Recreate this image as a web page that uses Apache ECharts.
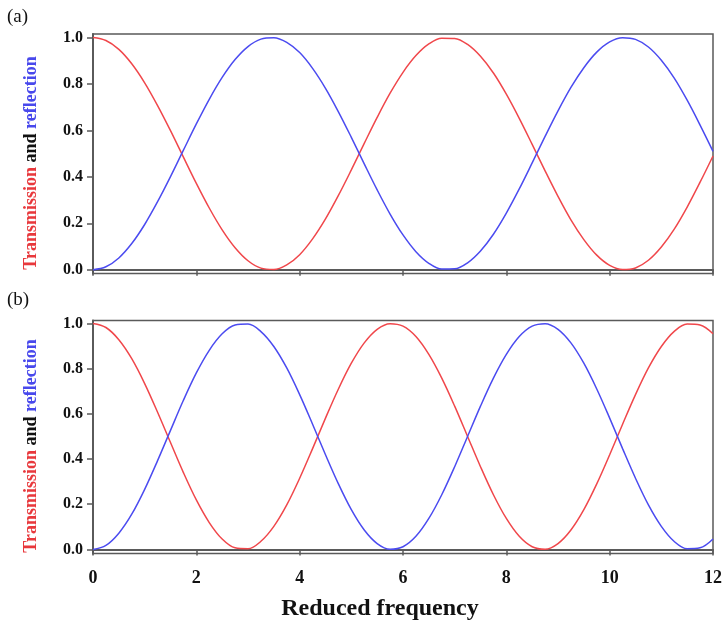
<!DOCTYPE html>
<html>
<head>
<meta charset="utf-8">
<script src="https://cdn.jsdelivr.net/npm/echarts@6/dist/echarts.min.js"></script>
<style>html,body{margin:0;padding:0;background:#fff}#c{width:722px;height:622px}</style>
</head>
<body>
<div id="c"></div>
<script>
// x positions (reduced frequency), step 0.25 from 0 to 12
const freq = [0,0.25,0.5,0.75,1,1.25,1.5,1.75,2,2.25,2.5,2.75,3,3.25,3.5,3.75,4,4.25,4.5,4.75,5,5.25,5.5,5.75,6,6.25,6.5,6.75,7,7.25,7.5,7.75,8,8.25,8.5,8.75,9,9.25,9.5,9.75,10,10.25,10.5,10.75,11,11.25,11.5,11.75,12];
// panel (a)
const transA = [1.000,0.987,0.949,0.887,0.805,0.707,0.599,0.485,0.372,0.266,0.172,0.095,0.039,0.007,0.001,0.021,0.065,0.133,0.219,0.320,0.430,0.544,0.656,0.760,0.850,0.922,0.972,0.997,0.996,0.970,0.919,0.847,0.756,0.652,0.540,0.426,0.316,0.215,0.130,0.063,0.019,0.001,0.008,0.041,0.098,0.175,0.270,0.377,0.490];
const reflA  = [0.000,0.013,0.051,0.113,0.195,0.293,0.401,0.515,0.628,0.734,0.828,0.905,0.961,0.993,0.999,0.979,0.935,0.867,0.781,0.680,0.570,0.456,0.344,0.240,0.150,0.078,0.028,0.003,0.004,0.030,0.081,0.153,0.244,0.348,0.460,0.574,0.684,0.785,0.870,0.937,0.981,0.999,0.992,0.959,0.902,0.825,0.730,0.623,0.510];
// panel (b)
const transB = [1.000,0.982,0.928,0.844,0.734,0.607,0.473,0.340,0.219,0.119,0.046,0.007,0.003,0.036,0.102,0.197,0.315,0.446,0.581,0.710,0.824,0.914,0.974,0.999,0.988,0.942,0.863,0.758,0.634,0.500,0.366,0.242,0.137,0.058,0.012,0.001,0.026,0.086,0.176,0.290,0.419,0.554,0.685,0.803,0.898,0.965,0.997,0.993,0.954];
const reflB  = [0.000,0.018,0.072,0.156,0.266,0.393,0.527,0.660,0.781,0.881,0.954,0.993,0.997,0.964,0.898,0.803,0.685,0.554,0.419,0.290,0.176,0.086,0.026,0.001,0.012,0.058,0.137,0.242,0.366,0.500,0.634,0.758,0.863,0.942,0.988,0.999,0.974,0.914,0.824,0.710,0.581,0.446,0.315,0.197,0.102,0.035,0.003,0.007,0.046];
const xTicks = [0,2,4,6,8,10,12];
const yTicks = [0,0.2,0.4,0.6,0.8,1.0];

const RED = '#f0474b', BLUE = '#4b4bf0', AXIS = '#5a5a5a';
const FONT = '"Liberation Serif", "Times New Roman", serif';

function pairs(xs, ys){ return xs.map((x,i)=>[x, ys[i]]); }

function yAxisCfg(gi, mn, mx){
  return {
    gridIndex: gi, type: 'value', min: mn, max: mx,
    axisLine: {show: true, lineStyle: {color: AXIS, width: 2}},
    axisTick: {show: true, length: 6, customValues: yTicks, lineStyle: {color: AXIS, width: 1.5}},
    axisLabel: {customValues: yTicks, formatter: v => v.toFixed(1), fontFamily: FONT, fontWeight: 'bold', fontSize: 16, color: '#111', margin: 10},
    splitLine: {show: false}
  };
}
function xAxisCfg(gi, showLabels){
  return {
    gridIndex: gi, type: 'value', min: 0, max: 12, interval: 2,
    axisLine: {show: true, lineStyle: {color: AXIS, width: 2}},
    axisTick: {show: true, length: 6, lineStyle: {color: AXIS, width: 1.5}},
    axisLabel: {show: showLabels, fontFamily: FONT, fontWeight: 'bold', fontSize: 18, color: '#111', margin: 16},
    splitLine: {show: false}
  };
}
function line(gi, data, color){
  return {type: 'line', xAxisIndex: gi, yAxisIndex: gi, data: data, smooth: 0.35, showSymbol: false, symbol: 'none',
    lineStyle: {color: color, width: 1.5}, z: 3, animation: false};
}
function yTitle(cy){
  return {type: 'text', x: 31, y: cy, rotation: Math.PI / 2,
    style: {
      text: '{r|Transmission} {k|and} {b|reflection}',
      align: 'center', verticalAlign: 'middle',
      font: 'bold 18px ' + FONT,
      rich: {
        r: {fill: '#e8383c', font: 'bold 18px ' + FONT},
        k: {fill: '#111', font: 'bold 18px ' + FONT},
        b: {fill: '#4848ec', font: 'bold 18px ' + FONT}
      }
    }};
}

const chart = echarts.init(document.getElementById('c'), null, {renderer: 'canvas'});
chart.setOption({
  animation: false,
  backgroundColor: '#fff',
  grid: [
    {left: 93, top: 34, width: 620, height: 239.5, show: true, borderColor: AXIS, borderWidth: 1.5, backgroundColor: 'transparent', containLabel: false, outerBoundsMode: 'none'},
    {left: 93, top: 320.5, width: 620, height: 233, show: true, borderColor: AXIS, borderWidth: 1.5, backgroundColor: 'transparent', containLabel: false, outerBoundsMode: 'none'}
  ],
  xAxis: [xAxisCfg(0, false), xAxisCfg(1, true)],
  yAxis: [yAxisCfg(0, -0.016, 1.015), yAxisCfg(1, -0.018, 1.013)],
  series: [
    line(0, pairs(freq, transA), RED),
    line(0, pairs(freq, reflA), BLUE),
    line(1, pairs(freq, transB), RED),
    line(1, pairs(freq, reflB), BLUE)
  ],
  graphic: [
    {type: 'text', left: 7, top: 8, style: {text: '(a)', font: '19px ' + FONT, fill: '#111'}},
    {type: 'text', left: 7, top: 291, style: {text: '(b)', font: '19px ' + FONT, fill: '#111'}},
    yTitle(163),
    yTitle(446),
    {type: 'text', x: 380, y: 609, style: {text: 'Reduced frequency', font: 'bold 24px ' + FONT, fill: '#111', align: 'center', verticalAlign: 'middle'}}
  ]
});
</script>
</body>
</html>
